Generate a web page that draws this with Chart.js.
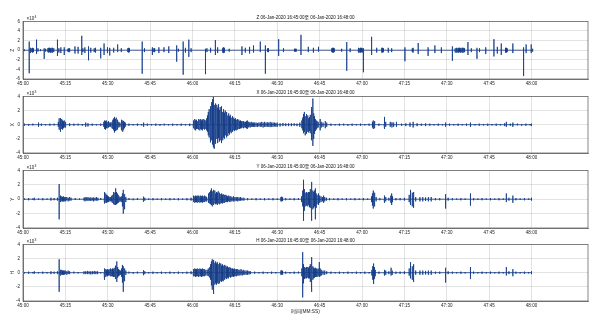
<!DOCTYPE html>
<html>
<head>
<meta charset="utf-8">
<script src="https://cdn.jsdelivr.net/npm/chart.js@4.4.1/dist/chart.umd.min.js"></script>
<style>
  html, body { margin: 0; padding: 0; background: #fff; }
  #wrap { position: relative; width: 598px; height: 329px; overflow: hidden; }
  #wrap canvas { position: absolute; left: 0; }
</style>
</head>
<body>
<div id="wrap">
  <canvas id="zChart"></canvas>
  <canvas id="xChart"></canvas>
  <canvas id="yChart"></canvas>
  <canvas id="hChart"></canvas>
</div>
<script>
// time axis: seconds after 16:45:00
const xTickSeconds = [0, 15, 30, 45, 60, 75, 90, 105, 120, 135, 150, 165, 180];
const xTickLabels = ['45:00', '45:15', '45:30', '45:45', '46:00', '46:15', '46:30',
                     '46:45', '47:00', '47:15', '47:30', '47:45', '48:00'];

const zTicks = [-6, -4, -2, 0, 2, 4, 6];
const xyhTicks = [-4, -2, 0, 2, 4];

const panelTitles = [
  'Z 06-Jan-2020 16:45:00至 06-Jan-2020 16:48:00',
  'X 06-Jan-2020 16:45:00至 06-Jan-2020 16:48:00',
  'Y 06-Jan-2020 16:45:00至 06-Jan-2020 16:48:00',
  'H 06-Jan-2020 16:45:00至 06-Jan-2020 16:48:00'
];
const axisNames = ['Z', 'X', 'Y', 'H'];
const axisPowers = ['4', '3', '3', '3'];
const timeAxisTitle = '时间(MM:SS)';

// trace envelope samples: [seconds, max, min]
const zSamples = [
  [0.4,0.2,-0.2],[2.2,1.8,-4.8],[2.6,0.5,-0.6],[3.1,0.4,-0.4],[3.4,0.5,-0.5],[3.7,0.4,-0.4],[4.8,2.2,-0.8],[5.3,0.4,-0.3],[6.2,0.2,-0.2],[7.5,0.4,-1.8],[8.0,0.3,-0.3],
  [8.8,0.4,-0.4],[9.1,0.5,-0.5],[9.4,0.5,-0.4],[9.7,0.4,-0.5],[10.0,0.5,-0.5],[10.3,0.5,-0.4],[10.6,0.4,-0.5],[10.9,0.4,-0.4],
  [12.2,2.2,-1.2],[12.7,0.4,-0.5],[13.4,0.6,-0.6],[14.6,0.6,-1.0],[15.9,0.3,-0.3],[16.2,0.4,-0.4],[16.5,0.4,-0.4],[18.4,0.8,-0.7],[19.5,0.7,-0.7],
  [20.8,3.0,-1.0],[21.2,0.4,-0.4],[21.9,0.6,-0.6],[23.2,0.8,-2.1],[24.0,0.5,-0.5],[25.2,0.4,-0.4],[25.5,0.5,-0.5],[25.8,0.4,-0.4],
  [27.5,0.5,-1.7],[28.7,1.4,-1.0],[29.9,0.6,-0.6],[30.7,0.5,-1.1],[32.1,0.5,-0.5],[33.5,1.2,-0.4],[34.8,0.4,-0.4],
  [37.1,0.4,-0.4],[37.4,0.5,-0.5],[37.7,0.4,-0.4],[42.2,1.8,-4.9],[43.0,0.4,-0.4],[45.8,0.6,-1.0],[46.3,0.4,-0.4],[46.6,0.4,-0.4],
  [48.1,0.6,-0.6],[49.9,0.6,-0.4],[51.6,0.8,-0.6],[54.4,1.0,-2.4],[55.0,0.3,-0.3],[56.7,1.8,-5.1],[57.5,0.5,-0.5],[58.7,2.2,-1.4],[59.5,0.4,-0.4],
  [64.6,0.3,-5.0],[65.1,0.4,-0.4],[66.4,0.5,-0.5],[68.1,2.1,-1.0],[68.9,0.6,-0.6],[70.7,0.5,-0.5],[71.0,0.6,-0.6],[71.3,0.5,-0.5],[73.0,0.3,-0.3],
  [77.5,0.8,-1.0],[78.7,0.5,-0.5],[80.2,0.7,-0.7],[81.6,1.0,-0.5],[84.0,1.8,-0.4],[85.8,1.0,-4.9],[86.6,0.4,-0.4],[86.9,0.4,-0.4],
  [90.5,2.3,-1.2],[92.2,0.4,-0.4],[96.1,0.3,-0.3],[96.4,0.3,-0.3],[96.7,0.3,-0.3],[98.4,3.2,-1.0],[101.0,0.7,-0.4],[102.8,0.5,-0.5],[104.6,0.7,-0.3],
  [109.3,0.4,-0.4],[109.6,0.5,-0.5],[109.9,0.5,-0.5],[110.2,0.4,-0.4],[112.8,0.3,-0.3],[114.6,1.7,-4.3],[115.8,0.4,-0.4],
  [118.6,0.5,-0.4],[118.9,0.5,-0.5],[119.2,0.4,-0.5],[119.5,0.5,-0.5],[119.8,0.5,-0.4],[120.1,0.4,-0.5],[120.5,0.4,-4.6],
  [123.4,2.8,-1.0],[125.2,0.5,-0.5],[127.0,0.5,-0.5],[127.3,0.5,-0.5],[127.6,0.4,-0.4],[129.3,0.5,-0.5],[130.5,0.4,-0.4],
  [135.2,0.6,-2.3],[137.8,0.4,-0.4],[138.1,0.5,-0.5],[139.9,1.5,-0.8],[143.4,0.6,-1.2],[145.8,1.0,-0.6],[148.1,0.6,-0.6],
  [152.0,0.8,-2.2],[153.0,0.4,-0.5],[153.3,0.5,-0.5],[153.6,0.5,-0.4],[153.9,0.4,-0.5],[154.2,0.5,-0.5],[154.5,0.5,-0.4],
  [154.8,0.4,-0.5],[155.1,0.5,-0.5],[155.4,0.5,-0.4],[155.7,0.4,-0.5],[156.0,0.5,-0.5],[156.3,0.4,-0.4],
  [157.5,1.7,-1.0],[158.7,0.4,-0.4],[160.7,0.5,-1.8],[161.6,0.4,-0.4],[163.8,0.6,-0.8],[166.7,2.3,-1.3],[167.9,0.7,-0.7],[169.3,1.4,-1.0],
  [170.8,0.5,-0.5],[171.1,0.5,-0.5],[171.4,0.4,-0.4],[173.4,1.4,-0.6],[177.2,0.6,-5.4],[178.1,1.2,-0.6],[179.9,1.2,-0.6],[180.4,0.3,-0.3]
];

const xSamples = [
  [0.5,0.15,-0.15],[2,0.1,-0.15],[3.5,0.15,-0.1],[5.5,0.3,-0.3],[6.5,0.15,-0.15],[8,0.1,-0.1],[9.5,0.15,-0.15],[11,0.15,-0.1],
  [12.5,0.4,-0.3],[12.8,0.9,-0.7],[13.1,0.95,-1.0],[13.4,0.7,-0.8],[13.7,0.8,-0.6],[14.0,0.6,-0.7],[14.3,0.5,-0.5],[14.6,0.6,-0.4],[14.9,0.4,-0.4],[15.2,0.3,-0.3],
  [16.5,0.2,-0.2],[18,0.15,-0.15],[19.5,0.15,-0.1],[21,0.1,-0.15],[22.2,0.3,-0.3],[23,0.2,-0.25],[24.5,0.15,-0.15],[26,0.1,-0.1],[27.5,0.15,-0.15],
  [28.6,0.4,-0.3],[28.9,0.6,-0.6],[29.2,0.5,-0.7],[29.5,0.6,-0.5],[29.8,0.4,-0.5],[30.1,0.5,-0.4],[30.4,0.4,-0.4],[30.7,0.3,-0.3],[31.0,0.3,-0.3],
  [31.5,0.4,-0.5],[31.8,0.7,-0.6],[32.1,0.9,-0.8],[32.4,1.1,-1.1],[32.7,0.8,-0.9],[33.0,1.0,-0.8],[33.3,0.7,-0.7],[33.6,0.5,-0.6],[33.9,0.4,-0.4],
  [34.3,0.3,-0.3],[34.7,0.5,-0.4],[35.0,0.7,-0.8],[35.3,0.6,-1.0],[35.6,0.5,-0.7],[35.9,0.4,-0.5],[36.2,0.3,-0.3],
  [37.5,0.15,-0.15],[39,0.1,-0.1],[40.5,0.15,-0.15],[42,0.1,-0.1],[42.7,0.3,-0.3],[44,0.15,-0.15],[45.5,0.1,-0.1],[47,0.15,-0.15],[48.5,0.1,-0.15],
  [50,0.15,-0.1],[51.5,0.1,-0.1],[53,0.15,-0.15],[54.5,0.1,-0.1],[56,0.15,-0.15],[57.5,0.1,-0.1],[59,0.15,-0.2],
  [60.2,0.4,-0.4],[60.5,0.6,-0.5],[60.8,0.8,-0.7],[61.1,0.6,-0.8],[61.4,0.7,-0.6],[61.7,0.5,-0.6],[62.0,0.6,-0.5],[62.3,0.8,-0.7],
  [62.6,0.7,-0.8],[62.9,0.8,-0.6],[63.2,0.6,-0.7],[63.5,0.7,-0.8],[63.8,0.8,-0.6],[64.1,0.6,-0.7],[64.4,0.7,-0.5],[64.7,0.6,-0.6],
  [65.0,0.9,-0.8],[65.3,1.3,-1.0],[65.6,1.8,-1.5],[65.9,2.2,-1.8],[66.2,2.6,-2.0],[66.5,1.8,-2.5],[66.8,3.2,-2.2],[67.1,3.6,-2.8],
  [67.4,4.0,-3.2],[67.7,2.8,-3.4],[68.0,3.0,-2.4],[68.3,2.2,-2.7],[68.6,2.8,-2.0],[68.9,2.4,-2.6],[69.2,2.9,-1.9],[69.5,2.1,-2.4],
  [69.8,2.5,-2.2],[70.1,2.0,-2.6],[70.4,2.6,-1.7],[70.7,1.8,-2.2],[71.0,2.2,-1.8],[71.3,1.7,-2.0],[71.6,2.0,-1.5],[71.9,1.5,-1.8],
  [72.2,1.8,-1.4],[72.5,1.3,-1.6],[72.8,1.6,-1.2],[73.1,1.2,-1.4],[73.4,1.4,-1.0],[73.7,1.0,-1.2],[74.0,1.2,-0.9],[74.3,0.9,-1.0],
  [74.6,1.0,-0.8],[74.9,0.8,-0.9],[75.2,0.9,-0.7],[75.5,0.7,-0.8],[75.8,0.8,-0.6],[76.1,0.6,-0.7],[76.4,0.7,-0.6],[76.7,0.5,-0.6],
  [77.0,0.6,-0.5],[77.3,0.5,-0.5],[77.6,0.5,-0.4],[77.9,0.4,-0.5],[78.2,0.5,-0.4],[78.5,0.4,-0.4],[78.8,0.4,-0.4],[79.1,0.5,-0.5],
  [79.4,0.6,-0.6],[79.7,0.4,-0.4],[80.0,0.4,-0.3],[80.4,0.3,-0.4],[80.8,0.4,-0.3],[81.2,0.3,-0.3],[81.6,0.3,-0.3],[82.0,0.3,-0.3],
  [82.5,0.3,-0.3],[83,0.25,-0.3],[83.5,0.3,-0.25],[84,0.3,-0.3],[84.5,0.4,-0.3],[85,0.3,-0.4],[85.5,0.4,-0.3],[86,0.3,-0.3],
  [86.5,0.35,-0.3],[87,0.3,-0.3],[87.5,0.4,-0.35],[88,0.3,-0.3],[88.5,0.3,-0.3],[89,0.3,-0.25],[89.5,0.25,-0.3],[90,0.3,-0.3],
  [91,0.2,-0.25],[92,0.25,-0.2],[93,0.2,-0.2],[94,0.2,-0.2],[95,0.2,-0.2],[96,0.2,-0.15],[97,0.15,-0.2],[98,0.3,-0.3],
  [98.7,0.6,-0.5],[99.0,1.0,-0.8],[99.3,1.5,-1.2],[99.6,1.8,-1.0],[99.9,1.2,-1.5],[100.2,1.5,-1.3],[100.5,1.0,-1.2],[100.8,1.3,-1.0],
  [101.1,0.9,-1.1],[101.4,1.1,-0.9],[101.7,1.4,-1.2],[102.0,1.8,-1.6],[102.3,2.5,-2.2],[102.6,3.7,-3.0],[102.9,1.6,-2.0],[103.2,1.2,-1.3],
  [103.5,0.8,-0.9],[103.8,0.6,-0.7],[104.1,0.5,-0.5],[104.5,0.4,-0.4],[105.2,0.8,-0.8],[105.6,0.4,-0.4],[106.2,0.3,-0.3],[107,0.5,-0.5],[107.5,0.3,-0.3],
  [109,0.15,-0.15],[110.5,0.1,-0.1],[112,0.15,-0.15],[113.5,0.15,-0.1],[115,0.1,-0.15],[116.5,0.15,-0.15],[118,0.1,-0.1],[119.5,0.15,-0.15],
  [121,0.1,-0.1],[122.5,0.15,-0.15],[123.7,0.4,-0.4],[124.0,0.6,-0.6],[124.3,0.5,-0.5],[124.6,0.3,-0.3],[126,0.15,-0.15],
  [127.8,0.5,-0.4],[128.1,1.1,-0.6],[128.4,0.4,-0.3],[130,0.4,-0.3],[130.6,0.35,-0.4],[131.2,0.3,-0.3],[132.2,0.4,-0.3],
  [134,0.15,-0.15],[135.5,0.2,-0.2],[137,0.3,-0.3],[138.1,0.4,-0.4],[139.5,0.2,-0.2],[141,0.15,-0.15],[142.5,0.2,-0.2],[144,0.15,-0.15],
  [145.5,0.1,-0.1],[147,0.15,-0.15],[148.5,0.1,-0.1],[149.6,0.3,-0.3],[151,0.15,-0.15],[152.5,0.1,-0.1],[154,0.15,-0.15],[155.5,0.1,-0.1],
  [157,0.15,-0.15],[158.4,0.3,-0.3],[160,0.1,-0.1],[161.5,0.15,-0.15],[163,0.1,-0.1],[164.5,0.15,-0.15],[166,0.1,-0.1],[167.5,0.15,-0.15],
  [169,0.1,-0.1],[170.5,0.2,-0.2],[171.1,0.4,-0.3],[172.5,0.15,-0.15],[173.4,0.3,-0.3],[175,0.15,-0.1],[176.5,0.1,-0.15],[178,0.15,-0.15],
  [179.5,0.1,-0.1],[180,0.15,-0.15]
];

const ySamples = [
  [0.5,0.1,-0.1],[2,0.15,-0.15],[3.5,0.1,-0.1],[4,0.2,-0.15],[5.5,0.1,-0.1],[7,0.15,-0.15],[8.5,0.1,-0.1],[9.9,0.2,-0.2],[11,0.15,-0.15],[12.2,0.2,-0.2],
  [12.8,2.1,-2.8],[13.1,0.5,-0.4],[13.4,0.3,-0.4],[13.7,0.4,-0.3],[14.0,0.3,-0.3],[14.3,0.4,-0.3],[14.6,0.3,-0.3],[15.0,0.3,-0.3],
  [15.5,0.3,-0.2],[16,0.2,-0.3],[16.5,0.3,-0.2],[17,0.2,-0.2],
  [18.5,0.15,-0.1],[20,0.1,-0.1],[21.6,0.2,-0.2],[22,0.3,-0.3],[22.5,0.25,-0.2],[23,0.3,-0.25],[23.5,0.2,-0.2],[24,0.25,-0.25],
  [24.5,0.2,-0.2],[25,0.25,-0.3],[25.5,0.2,-0.2],[26,0.3,-0.2],[26.5,0.2,-0.2],[27.5,0.15,-0.1],
  [28.7,0.7,-0.5],[29.0,1.0,-0.6],[29.3,0.8,-0.5],[29.6,0.6,-0.5],[29.9,0.5,-0.4],[30.2,0.4,-0.4],[30.5,0.3,-0.3],[30.9,0.3,-0.3],
  [31.3,0.4,-0.3],[31.6,0.6,-0.5],[31.9,0.8,-0.6],[32.2,1.0,-0.7],[32.5,0.9,-0.8],[32.8,1.5,-0.8],[33.1,1.0,-0.7],[33.4,0.8,-0.6],
  [33.7,0.6,-0.5],[34.0,0.4,-0.4],[34.4,0.3,-0.3],[34.8,0.4,-0.4],[35.2,0.8,-1.0],[35.5,1.3,-2.0],[35.8,0.7,-1.4],[36.1,0.5,-0.8],[36.4,0.3,-0.4],
  [37.5,0.15,-0.1],[39,0.1,-0.15],[40.5,0.15,-0.1],[42.5,0.2,-0.2],[42.8,0.35,-0.35],[43.1,0.2,-0.2],[44.5,0.1,-0.1],[46,0.15,-0.15],
  [47.5,0.1,-0.1],[49,0.15,-0.15],[50.5,0.1,-0.1],[52,0.15,-0.15],[53.5,0.1,-0.1],[55,0.15,-0.15],[56.5,0.1,-0.1],[58,0.15,-0.15],[59.5,0.2,-0.2],
  [60.2,0.4,-0.3],[60.5,0.5,-0.4],[60.8,0.4,-0.5],[61.1,0.5,-0.4],[61.4,0.4,-0.4],[61.7,0.5,-0.5],[62.0,0.4,-0.4],[62.3,0.5,-0.4],
  [62.6,0.4,-0.5],[62.9,0.5,-0.4],[63.2,0.4,-0.4],[63.5,0.5,-0.5],[63.8,0.4,-0.4],[64.1,0.5,-0.4],[64.4,0.4,-0.4],[64.7,0.4,-0.3],[65.0,0.3,-0.3],
  [65.5,0.5,-0.4],[65.8,0.8,-0.5],[66.1,1.0,-0.6],[66.4,1.2,-0.7],[66.7,1.5,-0.8],[67.0,1.1,-1.0],[67.3,1.3,-0.7],[67.6,0.9,-0.8],
  [67.9,1.2,-0.6],[68.2,0.8,-0.7],[68.5,1.0,-0.6],[68.8,0.9,-0.8],[69.1,1.1,-0.6],[69.4,0.8,-0.7],[69.7,0.9,-0.5],[70.0,0.7,-0.6],
  [70.3,0.8,-0.5],[70.6,0.6,-0.6],[70.9,0.7,-0.5],[71.2,0.6,-0.4],[71.5,0.5,-0.5],[71.8,0.6,-0.4],[72.1,0.5,-0.4],[72.4,0.4,-0.4],
  [72.8,0.5,-0.3],[73.2,0.4,-0.4],[73.6,0.4,-0.3],[74.0,0.3,-0.3],[74.5,0.4,-0.3],[75.0,0.3,-0.3],[75.5,0.3,-0.25],[76,0.3,-0.3],
  [76.5,0.25,-0.25],[77,0.3,-0.2],[77.5,0.2,-0.2],[78.2,0.2,-0.2],
  [79.5,0.15,-0.15],[81,0.1,-0.1],[82.5,0.15,-0.15],[84,0.1,-0.1],[85.5,0.15,-0.15],[87,0.1,-0.1],[88.5,0.15,-0.15],[90,0.1,-0.1],
  [91.3,0.3,-0.3],[91.6,0.35,-0.3],[91.9,0.25,-0.25],[93,0.15,-0.15],[94.5,0.1,-0.1],[96,0.15,-0.15],[97.5,0.15,-0.1],[98.6,0.4,-0.4],
  [99.0,1.2,-1.0],[99.3,2.7,-3.0],[99.6,1.4,-1.6],[99.9,0.9,-1.0],[100.2,0.8,-0.9],[100.5,1.0,-0.9],[100.8,0.9,-1.0],[101.1,1.0,-0.8],
  [101.4,1.0,-1.1],[101.7,1.4,-1.2],[102.0,1.8,-2.0],[102.3,2.4,-3.0],[102.6,1.2,-1.4],[102.9,1.0,-1.2],[103.2,1.2,-1.0],[103.5,1.5,-2.8],
  [103.8,0.8,-1.2],[104.1,0.6,-0.7],[104.6,0.8,-0.8],[105.0,0.5,-0.5],[105.5,0.4,-0.4],[106.0,0.3,-0.3],[106.4,0.5,-0.5],[106.8,0.3,-0.3],[107.4,0.2,-0.2],
  [108.5,0.15,-0.15],[110,0.1,-0.1],[111.5,0.15,-0.15],[113,0.1,-0.1],[114.5,0.15,-0.15],[116,0.1,-0.1],[117.5,0.15,-0.15],[119,0.1,-0.1],
  [120.5,0.15,-0.15],[122,0.1,-0.1],[123.4,0.4,-0.4],[123.7,0.8,-0.9],[124.0,1.2,-1.3],[124.3,0.9,-1.0],[124.6,0.5,-0.6],[125.0,0.3,-0.3],
  [126.3,0.15,-0.15],[127.8,0.3,-0.3],[128.1,0.5,-0.5],[128.4,0.3,-0.3],[129.5,0.2,-0.2],[130.2,0.5,-0.5],[130.5,0.8,-0.8],[130.8,0.4,-0.4],
  [132,0.15,-0.15],[133.5,0.15,-0.15],[135,0.2,-0.2],[136.7,0.6,-0.4],[137.0,1.3,-0.8],[137.3,0.8,-0.6],[137.8,0.9,-1.0],[138.1,1.0,-1.2],
  [138.4,0.6,-0.6],[139,0.3,-0.3],[140.5,0.3,-0.3],[141.5,0.3,-0.3],[142.5,0.25,-0.25],[143.5,0.3,-0.3],[144.5,0.3,-0.3],[146,0.15,-0.15],
  [147.5,0.15,-0.15],[149.6,0.7,-1.3],[150.5,0.2,-0.2],[152,0.15,-0.15],[153.5,0.1,-0.1],[155,0.15,-0.15],[156.5,0.1,-0.1],[158.4,0.8,-0.9],
  [159.5,0.15,-0.15],[161,0.1,-0.1],[162.5,0.15,-0.15],[164,0.1,-0.1],[165.5,0.15,-0.15],[167,0.1,-0.1],[168.5,0.15,-0.15],[170,0.1,-0.1],
  [171.1,0.8,-0.4],[172,0.2,-0.2],[173.4,0.5,-0.5],[174.5,0.15,-0.15],[176,0.1,-0.1],[177.5,0.15,-0.15],[179,0.1,-0.1],[180,0.2,-0.2]
];

const hSamples = [
  [0.5,0.1,-0.1],[2,0.15,-0.15],[3.5,0.1,-0.1],[4,0.2,-0.15],[5.5,0.1,-0.1],[7,0.15,-0.15],[8.5,0.1,-0.1],[9.9,0.2,-0.2],[11,0.15,-0.15],[12.2,0.2,-0.2],
  [12.8,1.9,-2.7],[13.1,0.4,-0.4],[13.4,0.3,-0.3],[13.7,0.4,-0.3],[14.0,0.3,-0.3],[14.3,0.3,-0.3],[14.6,0.3,-0.3],[15.0,0.3,-0.2],
  [15.5,0.2,-0.3],[16,0.3,-0.2],[16.5,0.2,-0.2],[18,0.15,-0.1],[19.5,0.1,-0.1],[21.6,0.2,-0.2],[22.2,0.2,-0.2],[22.8,0.25,-0.2],
  [23.4,0.2,-0.2],[24,0.2,-0.25],[24.6,0.2,-0.2],[25.2,0.25,-0.2],[25.8,0.2,-0.2],[26.4,0.2,-0.2],[27.5,0.1,-0.1],
  [28.7,0.4,-0.5],[29.0,0.6,-1.0],[29.3,0.5,-0.6],[29.6,0.4,-0.4],[29.9,0.5,-0.5],[30.2,0.4,-0.4],[30.5,0.5,-0.4],[30.8,0.6,-0.5],
  [31.1,0.4,-0.4],[31.4,0.5,-0.5],[31.7,0.6,-0.5],[32.0,0.5,-0.6],[32.3,0.7,-0.6],[32.6,0.8,-0.7],[32.9,1.0,-0.9],[33.2,1.6,-1.3],
  [33.5,0.8,-0.7],[33.8,0.5,-0.5],[34.1,0.4,-0.4],[34.5,0.3,-0.3],[34.9,0.6,-0.6],[35.2,1.1,-1.4],[35.5,0.9,-2.7],[35.8,0.6,-1.2],
  [36.1,0.4,-0.6],[36.4,0.3,-0.3],
  [37.5,0.15,-0.1],[39,0.1,-0.15],[40.5,0.15,-0.1],[42.5,0.2,-0.2],[42.8,0.35,-0.35],[43.1,0.2,-0.2],[44.5,0.1,-0.1],[46,0.15,-0.15],
  [47.5,0.1,-0.1],[49,0.15,-0.15],[50.5,0.1,-0.1],[52,0.15,-0.15],[53.5,0.1,-0.1],[55,0.15,-0.15],[56.5,0.1,-0.1],[58,0.15,-0.15],[59.5,0.2,-0.2],
  [60.2,0.4,-0.4],[60.5,0.5,-0.5],[60.8,0.6,-0.5],[61.1,0.5,-0.6],[61.4,0.5,-0.5],[61.7,0.6,-0.5],[62.0,0.5,-0.5],[62.3,0.5,-0.6],
  [62.6,0.6,-0.5],[62.9,0.5,-0.5],[63.2,0.5,-0.6],[63.5,0.6,-0.5],[63.8,0.5,-0.5],[64.1,0.5,-0.5],[64.4,0.4,-0.5],[64.7,0.4,-0.4],
  [65.2,0.4,-0.4],[65.6,0.6,-0.5],[66.1,0.8,-0.7],[66.4,1.2,-1.0],[66.7,1.6,-1.8],[67.0,1.9,-2.4],[67.3,1.5,-3.0],[67.6,1.8,-2.2],
  [67.9,1.4,-1.7],[68.2,1.6,-1.5],[68.5,1.3,-1.7],[68.8,1.5,-1.4],[69.1,1.2,-1.6],[69.4,1.4,-1.3],[69.7,1.1,-1.5],[70.0,1.3,-1.2],
  [70.3,1.0,-1.3],[70.6,1.2,-1.1],[70.9,1.0,-1.2],[71.2,1.1,-0.9],[71.5,0.9,-1.0],[71.8,1.0,-0.8],[72.1,0.8,-0.9],[72.4,0.9,-0.7],
  [72.7,0.7,-0.8],[73.0,0.8,-0.6],[73.3,0.6,-0.7],[73.6,0.7,-0.6],[73.9,0.6,-0.6],[74.2,0.6,-0.5],[74.5,0.5,-0.6],[74.8,0.6,-0.5],
  [75.1,0.5,-0.5],[75.4,0.5,-0.4],[75.7,0.4,-0.5],[76.0,0.5,-0.4],[76.4,0.4,-0.4],[76.8,0.4,-0.4],[77.2,0.5,-0.3],[77.6,0.3,-0.4],
  [78.0,0.4,-0.3],[78.5,0.3,-0.3],[79.0,0.3,-0.3],[79.5,0.3,-0.3],[80.0,0.25,-0.25],[80.5,0.2,-0.2],
  [82,0.15,-0.15],[83.5,0.1,-0.1],[85,0.15,-0.15],[86.5,0.1,-0.1],[88,0.15,-0.15],[89.5,0.1,-0.1],[91.3,0.3,-0.3],[91.6,0.35,-0.3],
  [91.9,0.25,-0.25],[93,0.15,-0.15],[94.5,0.1,-0.1],[96,0.15,-0.15],[97.5,0.15,-0.1],
  [98.7,0.6,-0.5],[99.0,2.9,-3.5],[99.3,1.2,-1.5],[99.6,0.8,-0.9],[99.9,0.7,-0.8],[100.2,0.8,-0.7],[100.5,0.7,-0.8],[100.8,0.8,-0.7],
  [101.1,0.7,-0.8],[101.4,0.9,-0.8],[101.7,1.2,-1.3],[102.0,2.2,-2.7],[102.3,1.2,-1.4],[102.6,0.9,-1.0],[102.9,0.7,-0.8],[103.2,0.6,-0.7],
  [103.5,0.7,-0.6],[103.8,0.6,-0.6],[104.1,0.5,-0.6],[104.5,0.6,-0.5],[104.9,1.5,-0.6],[105.2,0.6,-0.5],[105.6,0.4,-0.4],[106.2,0.3,-0.3],
  [106.8,0.3,-0.3],[107.5,0.2,-0.2],
  [109,0.15,-0.15],[110.5,0.1,-0.1],[112,0.15,-0.15],[113.5,0.1,-0.1],[115,0.15,-0.15],[116.5,0.1,-0.1],[118,0.15,-0.15],[119.5,0.1,-0.1],
  [121,0.15,-0.15],[122.5,0.1,-0.1],[123.5,0.4,-0.4],[123.8,0.9,-1.0],[124.1,1.3,-1.6],[124.4,0.8,-0.9],[124.7,0.4,-0.5],[126,0.15,-0.15],
  [127.8,0.3,-0.3],[128.1,0.4,-0.4],[128.4,0.3,-0.3],[129.5,0.2,-0.2],[130.3,0.7,-0.4],[130.7,0.3,-0.3],[132,0.15,-0.15],
  [133.5,0.15,-0.15],[135,0.2,-0.2],[136.7,0.6,-0.4],[137.0,1.5,-0.8],[137.3,0.8,-0.6],[137.8,0.9,-1.0],[138.1,1.2,-1.3],[138.4,0.6,-0.6],
  [139,0.3,-0.3],[140.5,0.3,-0.3],[141.5,0.3,-0.3],[142.5,0.25,-0.25],[143.5,0.3,-0.3],[144.5,0.3,-0.3],[146,0.15,-0.15],[147.5,0.15,-0.15],
  [149.6,0.7,-1.4],[150.5,0.2,-0.2],[152,0.15,-0.15],[153.5,0.1,-0.1],[155,0.15,-0.15],[156.5,0.1,-0.1],[158.4,0.8,-0.9],[159.5,0.15,-0.15],
  [161,0.1,-0.1],[162.5,0.15,-0.15],[164,0.1,-0.1],[165.5,0.15,-0.15],[167,0.1,-0.1],[168.5,0.15,-0.15],[170,0.1,-0.1],[171.1,0.8,-0.4],
  [172,0.2,-0.2],[173.4,0.5,-0.5],[174.5,0.15,-0.15],[176,0.1,-0.1],[177.5,0.15,-0.15],[179,0.1,-0.1],[180,0.2,-0.2]
];

// canvas placement of the four stacked panels
const panelLayout = [
  { id: 'zChart', top: 15, height: 73, xHeight: 9 },
  { id: 'xChart', top: 90, height: 72, xHeight: 9 },
  { id: 'yChart', top: 164, height: 73, xHeight: 9 },
  { id: 'hChart', top: 238, height: 78, xHeight: 15 }
];

const FONT = '"Liberation Sans", "Noto Sans CJK SC", sans-serif';
const TRACE = '#123a86';
const GRID = 'rgba(0,0,0,0.11)';

// each sample becomes a vertical swing from max to min, back on the zero line
function tracePoints(samples) {
  const pts = [];
  samples.forEach(([t, hi, lo]) => {
    pts.push({ x: t, y: 0 }, { x: t, y: hi }, { x: t, y: lo }, { x: t, y: 0 });
  });
  return pts;
}

// axes box plus the "x10^n" multiplier above the y axis
const frameAndScale = {
  id: 'frameAndScale',
  afterDraw(chart, args, opts) {
    const { ctx, chartArea: a } = chart;
    ctx.save();
    ctx.strokeStyle = '#555';
    ctx.lineWidth = 0.7;
    ctx.strokeRect(a.left, a.top, a.right - a.left, a.bottom - a.top);
    ctx.fillStyle = '#222';
    ctx.textBaseline = 'alphabetic';
    ctx.font = '4.5px ' + FONT;
    ctx.fillText('×10', a.left + 3.5, a.top - 1.5);
    const w = ctx.measureText('×10').width;
    ctx.font = '3.4px ' + FONT;
    ctx.fillText(opts.power, a.left + 3.8 + w, a.top - 3.6);
    ctx.restore();
  }
};

function makePanel(i, samples, yTicks) {
  const lay = panelLayout[i];
  const canvas = document.getElementById(lay.id);
  canvas.width = 598;
  canvas.height = lay.height;
  canvas.style.top = lay.top + 'px';
  const last = i === panelLayout.length - 1;

  return new Chart(canvas, {
    type: 'line',
    data: {
      datasets: [{
        data: tracePoints(samples),
        borderColor: TRACE,
        borderWidth: 0.8,
        pointRadius: 0,
        tension: 0,
        fill: false
      }]
    },
    options: {
      responsive: false,
      animation: false,
      events: [],
      layout: { padding: { left: 0, right: 10, top: 0, bottom: 0 } },
      plugins: {
        legend: { display: false },
        tooltip: { enabled: false },
        title: {
          display: true,
          text: panelTitles[i],
          fullSize: false,
          color: '#111',
          font: { family: FONT, size: 4.5, weight: 'normal' },
          padding: { top: 0, bottom: 1 }
        },
        frameAndScale: { power: axisPowers[i] }
      },
      scales: {
        x: {
          type: 'linear',
          min: 0,
          max: 200,
          afterBuildTicks: s => { s.ticks = xTickSeconds.map(v => ({ value: v })); },
          afterFit: s => { s.height = lay.xHeight; },
          ticks: {
            callback: (v, idx) => xTickLabels[idx],
            autoSkip: false,
            maxRotation: 0,
            padding: 2,
            color: '#222',
            font: { family: FONT, size: 4.5 }
          },
          grid: { color: GRID, drawTicks: false },
          border: { color: '#555', width: 0.7 },
          title: {
            display: last,
            text: timeAxisTitle,
            color: '#222',
            font: { family: FONT, size: 4.8 },
            padding: { top: 0, bottom: 1.5 }
          }
        },
        y: {
          min: yTicks[0],
          max: yTicks[yTicks.length - 1],
          afterBuildTicks: s => { s.ticks = yTicks.map(v => ({ value: v })); },
          afterFit: s => { s.width = 23; },
          ticks: {
            padding: 3,
            color: '#222',
            font: { family: FONT, size: 4.5 }
          },
          grid: { color: GRID, drawTicks: false },
          border: { color: '#555', width: 0.7 },
          title: {
            display: true,
            text: axisNames[i],
            color: '#222',
            font: { family: FONT, size: 4.8 },
            padding: { top: 10, bottom: 0 }
          }
        }
      }
    },
    plugins: [frameAndScale]
  });
}

makePanel(0, zSamples, zTicks);
makePanel(1, xSamples, xyhTicks);
makePanel(2, ySamples, xyhTicks);
makePanel(3, hSamples, xyhTicks);
</script>
</body>
</html>
